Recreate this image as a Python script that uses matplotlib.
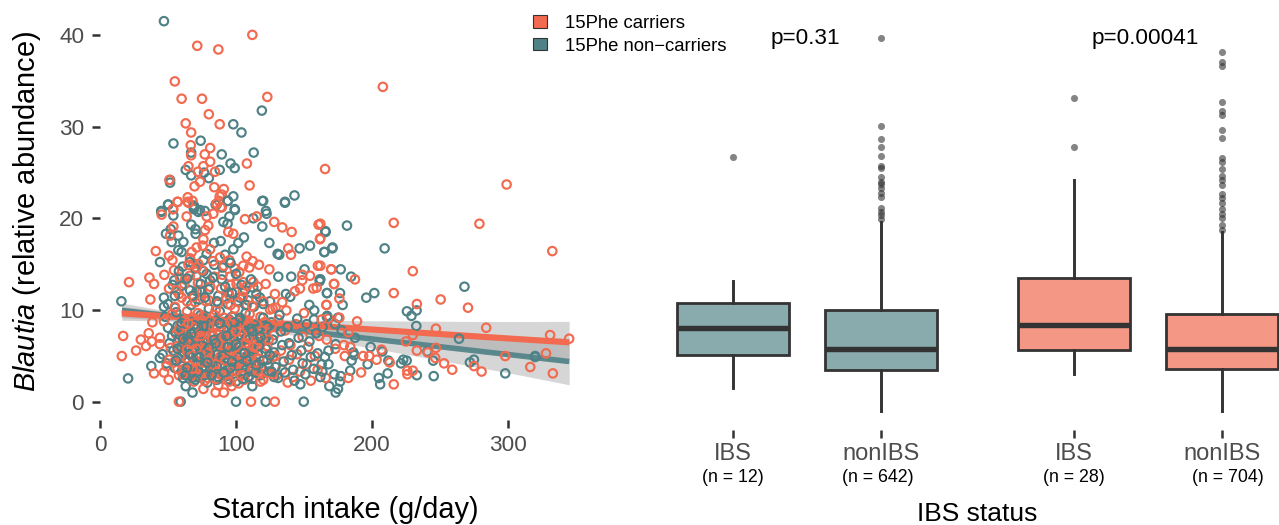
import matplotlib
matplotlib.use('Agg')
import matplotlib.pyplot as plt
from matplotlib.patches import Patch
import numpy as np

plt.rcParams['font.family'] = ['Liberation Sans', 'DejaVu Sans']
plt.rcParams['mathtext.fontset'] = 'custom'
plt.rcParams['mathtext.it'] = 'Liberation Sans:italic'
plt.rcParams['mathtext.rm'] = 'Liberation Sans'

ORANGE = '#F26A4F'
TEAL = '#4F8286'
DARK = '#333333'
GREYTXT = '#4D4D4D'

# starch intake (g/day), Blautia (%)
carrier_pts = [
    (112,40.2),(71.5,39),(87,38.6),(55,35.1),(60,33.2),(75,33.2),(123,33.4),(80,31.5),(63,30.5),(88,30.4),
    (67,29.5),(66.7,28.1),(81,27.8),(67,27),(77,27.1),(81,26.3),(108,26.1),(65,25.8),(76,25.8),(72,25.2),
    (84.5,25.2),(51,24.3),(73.5,24.1),(69.5,23.6),(84,23.5),(110,23.7),(91,23.3),(89.5,22.7),(88,22.5),(87.5,22),
    (85.5,21.6),(64.5,22.4),(68,22),(64.5,21.9),(57,21.9),(53.5,21.1),(89.5,21.3),
    (208,34.5),(165.5,25.5),(299,23.8),
    (216,19.6),(279,19.5),(332.6,16.5),(230,14.3),(170,14.5),(187.5,13.4),(172,12.9),(216,11.9),(250.5,11.2),(233,10.7),
    (176,11.3),(166.4,10.6),(270.6,10.3),(189,8.8),(168,9.1),(176,9.2),(247,8),(284,8.1),(331,7.3),(345,6.9),
    (230,7.3),(225,6.6),(247,5.9),(207,5.7),(233,5.6),(241,5.4),(246.5,4.8),(253,4.2),(259,3.5),(275,3.9),
    (280.6,3.3),(298,5),(316.4,3.8),(328,5.3),(333,3.1),(216,1.9),(226,3.4),(226,3),(230,3.4),(213,4.3),
    (203.4,4.6),(198,5),(193.5,5),(192,3.2),(182.6,2.6),(166,2.6),(180,5),(173,5.8),(179.4,6.2),(184,6),
    (162,19.5),(162,17.9),(162,14.9),(182.6,7.6),(166.7,6.8),
    (21.3,13.1),(36.3,13.6),(39.7,12.9),(37,11.2),(38.5,8.7),(17,7.2),(16,5),(26.5,5.6),(30,6.8),(35.8,7.5),
    (33.8,6.1),(38,6.6),(44,7),(39.7,3.1),(47,3.2),(50.5,2.4),(58,0),(128.5,0),(85,1),(91,1),
    (76,1.4),(96.8,1.7),(138,2.1),(41,16.5),(50.7,16),(111,0),
    (45.3,20.5),(57.1,21.9),(65,21.8),(88.7,21.3),(85.7,21.7),(78.4,20.3),(83.3,20.6),(77.2,18.8),(79.6,19.3),(63.7,20.3),
    (53.9,21.1),(106.6,20),(115.2,20.3),(128.1,19.7),(134,19.1),(140.9,18.6),(160.7,19.4),(161.7,17.8),(138.4,16.8),(140.4,16.1),
    (170,14.5),(160.2,14.9),(172.2,12.9),(166.6,10.6),(154.4,13.8),(148.7,13.9),(148.7,13.3),(156.8,12.4),(159.3,12.5),(147,12.4),
    (143.3,12.1),(128.6,11.8),(134,10.9),(129.1,10.3),(126.9,10.2),(121.8,12.9),(124.5,14.5),(116.9,15),(112.2,15.4),(107.8,15.9),
    (109.8,14.7),(105.3,14.9),(102.4,14.2),(95.6,13.7),(95.1,15.5),(88.2,15.8),(80.9,16.7),(76,17.8),(94.3,18.6),(98,18.4),
    (75.5,17.1),(71,16.9),(67.4,16.4),(66.2,15.7),(68.6,15.1),(72.3,15.1),(53.2,15.5),(54.4,14.4),(47.3,13.9),(53.9,19.2),
    (51.5,18.2),(50.7,12.4),(62.5,13.4),(58.8,13.6),(100.4,12.9),(105.3,13.1),(112.7,13.1),
    (47,8.8),(52,5.9),(44,6.3),(49,3.9),(53,9.6),(56,7.4),(51,4.6),(58,2.9),(59,8.4),(61,6.3),
    (55,10.4),(63,4.7),(64,9.9),(65,3.2),(67,7.8),(60,11.4),(68,5.8),(69,2.2),(70,10.9),(71,8.2),
    (72,4.2),(73,6.7),(74,3.0),(75,12.0),(76,9.4),(77,5.5),(78,7.4),(79,2.6),(80,11.1),(81,4.8),
    (82,8.7),(83,6.3),(84,3.5),(85,10.0),(86,5.2),(87,1.8),(88,7.7),(89,12.4),(90,4.0),(91,9.2),
    (92,6.0),(93,2.4),(94,8.1),(95,11.7),(96,5.0),(97,3.3),(98,7.1),(99,10.2),(100,4.4),(101,6.4),
    (102,2.0),(103,9.0),(104,5.3),(105,12.1),(106,7.5),(107,3.7),(108,10.6),(109,5.9),(110,2.8),(111,8.3),
    (112,6.6),(113,4.2),(115,11.2),(116,7.0),(117,3.1),(118,9.3),(119,5.4),(120,2.4),(122,8.0),(123,6.1),
    (124,3.9),(125,10.1),(127,4.9),(128,7.3),(130,2.9),(131,9.0),(133,5.6),(134,3.5),(136,7.8),(137,10.0),
    (139,4.6),(140,6.2),(142,2.7),(144,8.5),(145,5.2),(147,3.3),(149,7.1),(150,9.7),(152,4.1),(153,6.0),
    (155,2.3),(156,8.0),(158,5.0),(160,3.5),(161,7.2),(163,9.0),
    (57,6.1),(82,3.9),(70,7.0),(95,6.9),(65,5.2),(103,7.7),(78,4.3),(87,6.7),(62,3.6),(92,8.6),
    (73,5.3),(100,8.4),(67,2.8),(84,9.5),(106,5.6),(79,9.0),(93,4.6),(61,7.4),(109,8.9),(80,6.1),
    (54,4.3),(101,3.3),(71,3.6),(88,3.0),(96,10.6),(59,5.0),(75,7.8),(111,4.6),(86,8.3),(68,9.2),
    (90,5.6),(77,6.6),(83,7.2),(98,5.8),(74,8.6),
    (60,4.1),(63,8.1),(66,3.9),(69,6.4),(72,9.7),(75,2.7),(78,5.9),(81,8.9),(84,4.0),(87,7.3),
    (90,2.9),(93,6.4),(96,8.8),(99,4.1),(102,6.9),(105,3.0),(108,8.1),(111,5.3),(114,7.6),(117,4.7),
    (120,6.6),(123,3.2),(126,8.2),(129,5.0),(58,7.9),(61,3.0),(64,5.7),(67,9.0),(70,4.5),(73,7.6),
    (76,3.4),(79,5.4),(82,7.5),(85,2.5),(88,4.9),(91,7.0),(94,3.0),(97,5.6),(100,7.7),(103,4.4),
    (106,2.4),(109,7.0),(112,3.5),(115,5.9),(118,2.2),(121,8.7),(124,6.8),(127,3.0),(57,3.6),(62,6.9),
    (65,8.6),(68,3.6),(71,5.8),(74,7.2),(77,2.3),(80,4.4),(83,8.2),(86,3.3),(89,6.2),(92,4.5),
    (95,2.2),(98,9.3),(101,5.1),(104,2.9),(107,6.4),(110,9.6),(113,6.0),(116,3.4),(119,7.8),
    (58,11.8),(62,12.9),(66,13.8),(69,11.5),(72,13.0),(75,14.4),(78,11.0),(81,12.6),(84,13.7),(87,10.8),
    (90,13.9),(93,11.3),(96,12.8),(99,14.6),(102,10.9),(105,11.5),(108,12.7),(112,10.5),(116,12.6),(120,11.0),
    (56,12.2),(64,11.0),(71,14.7),(83,15.4),(91,14.9),(65,15.0),
]
noncarrier_pts = [
    (47,41.7),(119,31.9),(98,30.4),(104,29.5),(54,28.3),(74,28.6),(113,27.3),(67,27.3),(89.5,27.1),(96,26.1),
    (99,25.6),(63,25.4),(88,25.4),(67,24.8),(80,24.5),(76.5,25.1),(51.5,24.3),(51.5,24),(143,22.6),(136,21.9),
    (120,22),(98,22.5),(50,21.6),(69,21.5),(85,21.6),(94,22),(99,21.1),(122,20.9),(45,20.9),(69,21.1),
    (73.5,21),(77,20.9),
    (181.6,19.3),(165.7,18.7),(171,16.9),(165,16.4),(209.3,16.8),(177,14.5),(184.6,13.7),(162,13.4),(167,11.9),(176.5,11.9),
    (178.4,10.6),(201.7,11.9),(195.8,11.4),(268,12.6),(225.7,9.9),(232.8,10),(229,9.4),(232.6,8.3),(167,9.4),(175,9.2),
    (172.8,8.5),(163.7,8.2),(177.7,7.8),(187.5,7),(264,6.9),(199,6),(207.6,5.5),(212,4.5),(223,4.6),(225.5,4.5),
    (221.3,4.2),(240.7,5.5),(245,4.5),(275,4.6),(272,4.3),(320,4.9),(320,5),(298,3.1),(233,2.9),(245.4,2.8),
    (211.5,3.1),(205,2.6),(206,1.9),(196.8,4.1),(186.3,5.4),(187,5.1),(184,3.4),(172.3,3),(177,2.8),(176.5,2.2),
    (168.6,1.7),(175,1.4),(173.3,1),(173.3,6.3),(168,5.6),(165.4,4.9),(163,4.1),(168,4.1),(185,4.5),(163.5,3.3),
    (15.7,11),(20.6,2.55),(37.7,3.9),(59.3,0),(100,0),(121.8,0),(149.8,0),(68,1),(63,1.7),(112,1.7),(147.3,1.9),
    (45.1,20.8),(53.9,20.4),(50.2,21.6),(69.1,21.3),(72.3,20.8),(85.7,21.6),(93.8,22),(99.2,21),(95.1,20.3),(90.7,19.7),
    (93.8,19.5),(119.3,22),(136,21.8),(122.5,20.6),(112.7,20.1),(119.3,19.2),(165.9,18.6),(124.5,17.4),(146.8,16.8),(154.4,17.1),
    (164.9,16.4),(170.8,16.8),(130.6,16.2),(131.8,16.1),(150.4,14.5),(131.1,13.7),(140.6,13.7),(161.7,13.4),(161.5,13.2),(166.8,11.9),
    (136.7,11.8),(139.9,11.5),(153.9,10.6),(157.5,10),(157.3,9),(166.8,9.3),(117.6,11.4),(125,11),(48.5,18.4),(52,18.9),
    (52.7,17.5),(57.6,18.2),(61.3,17.5),(67.1,19.4),(70.1,18.9),(70.3,18.4),(83.8,17.4),(88.7,17.6),(105.8,18),(101.7,17.4),
    (98,16.7),(91.9,16.1),(78.4,16.2),(76,15.5),(57.6,16.6),(60,16.4),(44.1,15.3),(60.8,14.8),(47,11.4),(54.6,13.3),
    (53.4,12.8),(50,10.7),(55.1,10.3),(47,10.4),(71,12.1),(66.2,12.2),(73.5,12.2),(89.4,13.4),(94.3,12),(112.7,12.5),
    (106.6,12.2),(102.9,11.4),(109,11.1),(78.4,14),(76,14.3),(71,13.8),(80.9,13.3),
    (48,9.3),(50,8.1),(51,6.4),(46,5.2),(49,4.2),(44,4.8),(53,7.2),(54,5.6),(55,3.7),(56,9.8),
    (57,8.3),(58,6.9),(59,5.0),(60,3.3),(61,2.6),(62,9.1),(63,7.6),(64,6.1),(65,4.4),(66,3.0),
    (67,10.6),(68,8.8),(69,7.1),(70,5.6),(71,4.0),(72,2.7),(73,11.2),(74,9.5),(75,7.9),(76,6.5),
    (77,5.1),(78,3.6),(79,2.1),(80,10.2),(81,8.6),(82,7.2),(83,5.9),(84,4.5),(85,3.2),(86,2.4),
    (87,11.6),(88,9.9),(89,8.2),(90,6.7),(91,5.3),(92,3.9),(93,2.8),(94,10.7),(95,9.0),(96,7.5),
    (97,6.0),(98,4.7),(99,3.4),(100,2.2),(101,11.0),(102,8.9),(103,7.3),(104,5.7),(105,4.3),(106,3.1),
    (107,9.7),(108,7.8),(109,6.3),(110,4.9),(111,3.7),(112,2.5),(113,10.4),(114,8.4),(115,6.6),(116,5.2),
    (117,4.1),(118,2.9),(120,9.2),(121,7.4),(122,5.8),(123,4.6),(124,3.3),(126,8.7),(127,6.8),(128,5.4),
    (129,3.8),(131,2.6),(132,9.5),(133,7.7),(134,6.2),(135,4.4),(136,3.2),(138,8.2),(139,6.4),(141,5.1),
    (142,3.5),(143,2.3),(145,9.1),(146,7.0),(148,5.6),(149,4.2),(151,3.0),(152,8.5),(154,6.6),(155,4.9),
    (157,3.6),(159,7.5),(160,5.3),(162,2.7),
    (58,4.7),(83,3.1),(71,8.4),(96,5.4),(66,6.8),(104,8.1),(77,3.9),(88,6.2),(62,5.3),(91,7.9),
    (74,4.3),(99,6.7),(69,3.4),(85,8.9),(107,4.8),(79,6.6),(94,3.6),(64,8.0),(110,7.2),(81,5.1),
    (55,7.7),(102,3.9),(72,6.1),(89,4.1),(97,9.3),(60,6.0),(76,9.1),(112,5.5),(86,5.2),(68,4.9),
    (59,7.3),(62,3.2),(65,6.6),(68,2.6),(71,5.0),(74,7.4),(77,2.9),(80,5.9),(83,8.2),(86,3.9),
    (89,7.0),(92,5.2),(95,2.4),(98,7.8),(101,4.9),(104,3.0),(107,6.9),(110,3.4),(113,5.8),(116,8.0),
    (119,3.7),(122,7.0),(125,5.1),(128,2.7),(57,5.8),(60,8.6),(63,2.9),(66,5.2),(69,8.4),(72,3.3),
    (75,6.2),(78,8.3),(81,3.7),(84,6.8),(87,2.7),(90,5.0),(93,7.2),(96,3.7),(99,8.7),(102,6.0),
    (105,2.5),(108,4.5),(111,8.0),(114,3.2),(117,6.1),(120,4.5),(123,8.2),(126,3.3),(56,4.5),(61,6.9),
    (64,3.7),(67,7.4),(70,2.4),(73,4.9),(76,8.3),(79,4.3),(82,2.9),(85,6.4),(88,8.6),(91,3.2),
    (94,6.0),(97,4.4),(100,6.3),(103,9.2),(106,5.3),(109,2.7),(112,7.7),(115,4.0),(118,7.1),
    (60,12.7),(64,13.5),(68,11.6),(70,14.6),(74,12.9),(77,11.4),(80,12.3),(83,13.6),(86,11.0),(90,14.7),
    (92,12.6),(97,11.9),(100,14.0),(104,12.8),(107,10.6),(111,13.4),(115,11.8),(120,10.7),(58,14.3),(66,15.3),
    (84,15.0),(55,11.6),(96,15.2),
]

fit_x = [16, 50, 100, 150, 200, 250, 300, 345]
carrier_fit = [9.67, 9.35, 8.87, 8.39, 7.91, 7.41, 6.93, 6.5]
carrier_ci = [0.75, 0.5, 0.42, 0.55, 0.95, 1.4, 1.85, 2.3]
noncarrier_fit = [10.0, 9.42, 8.57, 7.72, 6.87, 6.02, 5.17, 4.4]
noncarrier_ci = [0.8, 0.5, 0.42, 0.6, 1.0, 1.5, 2.0, 2.55]

# boxes, same order left to right
box_labels = ['IBS', 'nonIBS', 'IBS', 'nonIBS']
box_n = ['(n = 12)', '(n = 642)', '(n = 28)', '(n = 704)']
box_whishi = [13.2, 19.67, 24.3, 18.57]
box_q3 = [10.83, 10.03, 13.5, 9.59]
box_med = [8.02, 5.75, 8.35, 5.72]
box_q1 = [5.13, 3.45, 5.64, 3.53]
box_whislo = [1.45, -1.0, 3.05, -1.0]
box_fliers = [
    [26.76],
    [39.8, 30.2, 28.8, 27.86, 26.9, 25.84, 25.6, 24.6, 24.1, 23.8, 23.4, 22.9, 22.4, 21.2, 20.8, 20.4, 20.0],
    [33.3, 27.9],
    [38.3, 37.2, 36.8, 32.8, 31.8, 31.4, 29.8, 28.9, 26.65, 26.3, 25.5, 24.7, 24.3, 23.7, 22.8, 22.3, 21.8,
     21.1, 20.6, 20.1, 19.3, 18.8],
]
p_values = ['p=0.31', 'p=0.00041']

W, H = 1279, 525
fig = plt.figure(figsize=(W / 100, H / 100), dpi=100)


def axrect(left, right, top, bottom):
    return [left / W, 1 - bottom / H, (right - left) / W, (bottom - top) / H]


def figtxt(x, y, s, **kw):
    fig.text(x / W, 1 - y / H, s, ha='center', va='center', **kw)


ax = fig.add_axes(axrect(99.5, 575, 2, 420))
ax.set_xlim(-0.4, 349.3)
ax.set_ylim(-2.0, 43.6)
# values above were read at 9.125 px per unit, the ticks sit at 9.167
yread = 9.125 / 9.167

fit_x = np.array(fit_x)
for fit, ci in ((noncarrier_fit, noncarrier_ci), (carrier_fit, carrier_ci)):
    fit = np.array(fit)
    ci = np.array(ci)
    ax.fill_between(fit_x, (fit - ci) * yread, (fit + ci) * yread, color='#999999', alpha=0.4, lw=0, zorder=1)
ax.plot(fit_x, np.array(noncarrier_fit) * yread, color=TEAL, lw=4.0, alpha=0.9, solid_capstyle='butt', zorder=2)
ax.plot(fit_x, np.array(carrier_fit) * yread, color=ORANGE, lw=4.4, solid_capstyle='butt', zorder=2)

# mix both groups so neither one sits fully on top
carr = np.array(carrier_pts)
non = np.array(noncarrier_pts)
all_pts = np.vstack([carr, non])
all_cols = np.array([ORANGE] * len(carr) + [TEAL] * len(non))
order = np.argsort(np.r_[np.linspace(0, 1, len(carr)), np.linspace(0, 1, len(non))])
ax.scatter(all_pts[order, 0], all_pts[order, 1] * yread, s=37, facecolors='none', edgecolors=all_cols[order],
           linewidths=1.55, zorder=3)

ax.set_xticks([0, 100, 200, 300])
ax.set_yticks([0, 10, 20, 30, 40])
ax.tick_params(axis='x', length=5.5, width=1.8, color=DARK, labelcolor=GREYTXT, labelsize=16.2, pad=5.2)
ax.tick_params(axis='y', length=5.5, width=1.8, color=DARK, labelcolor=GREYTXT, labelsize=16.2, pad=5.5)
for s in ax.spines.values():
    s.set_visible(False)

figtxt(345, 510, 'Starch intake (g/day)', fontsize=20.8, color='black')
figtxt(27, 211, r'$\mathit{Blautia}$ (relative abundance)', fontsize=20.9, color='black', rotation=90)

fig.legend(handles=[Patch(facecolor=ORANGE, edgecolor=DARK, lw=0.8, label='15Phe carriers'),
                    Patch(facecolor=TEAL, edgecolor=DARK, lw=0.8, label='15Phe non\u2212carriers')],
           loc='upper left', bbox_to_anchor=(533 / W, 1 - 15 / H), frameon=False, fontsize=13.3,
           handlelength=0.76, handleheight=0.65, handletextpad=0.97, labelspacing=0.3, borderpad=0, borderaxespad=0)

# right panel
bx = fig.add_axes(axrect(650, 1279, 2, 430))
bx.set_xlim(-0.558, 3.684)
bx.set_ylim(-3.12, 43.8)
bx.patch.set_visible(False)
positions = [0, 1, 2.3, 3.3]
box_cols = ['#8AABAE', '#8AABAE', '#F49885', '#F49885']
stats = []
for i in range(4):
    stats.append(dict(med=box_med[i], q1=box_q1[i], q3=box_q3[i], whislo=box_whislo[i], whishi=box_whishi[i],
                      fliers=box_fliers[i]))
art = bx.bxp(stats, positions=positions, widths=0.755, patch_artist=True, showcaps=False, manage_ticks=False,
             boxprops=dict(edgecolor=DARK, linewidth=2.0),
             medianprops=dict(color=DARK, linewidth=3.9, solid_capstyle='butt'),
             whiskerprops=dict(color=DARK, linewidth=2.1),
             flierprops=dict(marker='o', markersize=5.1, markerfacecolor='#333333', markeredgecolor='none', alpha=0.6))
for patch, col in zip(art['boxes'], box_cols):
    patch.set_facecolor(col)

bx.set_xticks(positions)
bx.set_xticklabels(box_labels)
bx.set_yticks([])
bx.tick_params(axis='x', length=5.5, width=1.8, color=DARK, labelcolor=GREYTXT, labelsize=17, pad=4)
for s in bx.spines.values():
    s.set_visible(False)

for x, s in zip([733, 878, 1074, 1228], box_n):
    figtxt(x, 478, s, fontsize=12.8, color='black')
figtxt(977, 514, 'IBS status', fontsize=19, color='black')
bx.text(0.488, 39.8, p_values[0], ha='center', va='center', fontsize=16.2, color='black')
bx.text(2.78, 39.8, p_values[1], ha='center', va='center', fontsize=16.2, color='black')

fig.savefig('out.png', dpi=100)
